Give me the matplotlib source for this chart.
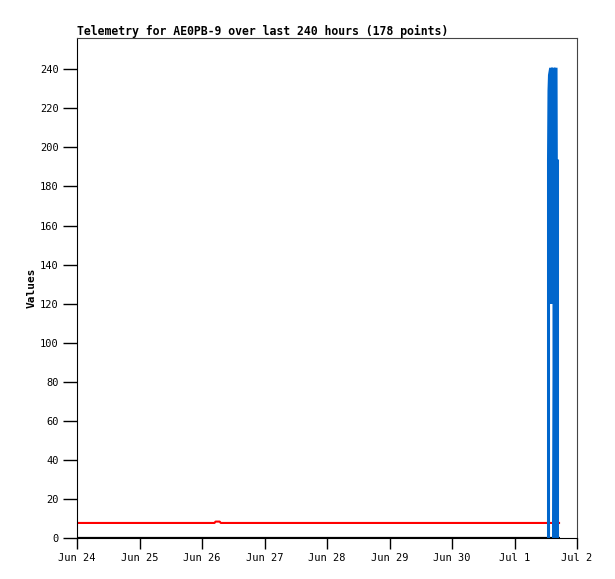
import matplotlib
matplotlib.use('Agg')
import matplotlib.pyplot as plt
import numpy as np

# hours since Jun 24 00:00
blue_hours = [181.06, 181.06, 181.25, 181.44, 181.82, 182.21, 182.21, 182.6, 183.17, 183.17, 183.74, 183.94, 184.05, 184.51, 184.51]
blue_vals = [0, 193, 229, 237, 240, 240, 120, 240, 240, 0, 240, 240, 193, 193, 0]

red_hours = [0, 52.8, 53.2, 54.8, 55.2, 185.5]
red_vals = [7.7, 7.7, 8.4, 8.4, 7.7, 7.7]

black_hours = [0, 185.5]
black_vals = [0, 0]

day_labels = ['Jun 24', 'Jun 25', 'Jun 26', 'Jun 27', 'Jun 28', 'Jun 29', 'Jun 30', 'Jul 1', 'Jul 2']

fig = plt.figure(figsize=(6.15, 5.79), dpi=100)
ax = fig.add_axes([77/615, 1-538/579, 500/615, 500/579])

ax.plot(black_hours, black_vals, color='black', lw=1.6, solid_capstyle='butt')
ax.plot(red_hours, red_vals, color='#ff0000', lw=1.5, solid_capstyle='butt')
ax.plot(blue_hours, blue_vals, color='#0066cc', lw=2.2, solid_capstyle='butt', solid_joinstyle='miter')

ax.set_xlim(0, 192)
ax.set_ylim(0, 256)
ax.set_xticks(np.arange(0, 193, 24))
ax.set_xticklabels(day_labels)
ax.set_yticks(np.arange(0, 241, 20))
ax.tick_params(axis='x', length=8, width=1, pad=3, labelsize=7.5, direction='out')
ax.tick_params(axis='y', length=10, width=1, pad=3, labelsize=7.5, direction='out')
for lab in ax.get_xticklabels() + ax.get_yticklabels():
     lab.set_family('DejaVu Sans Mono')

for s in ['left', 'bottom']:
     ax.spines[s].set_color('black')
for s in ['top', 'right']:
     ax.spines[s].set_color('#444444')

ax.set_ylabel('Values', family='DejaVu Sans Mono', weight='bold', fontsize=8)
ax.yaxis.set_label_coords(-0.08, 0.5)
fig.text(77/615, 1-31/579, 'Telemetry for AE0PB-9 over last 240 hours (178 points)',
         family='DejaVu Sans Mono', weight='bold', fontsize=8.3, ha='left', va='center')

plt.savefig('out.png', dpi=100)
